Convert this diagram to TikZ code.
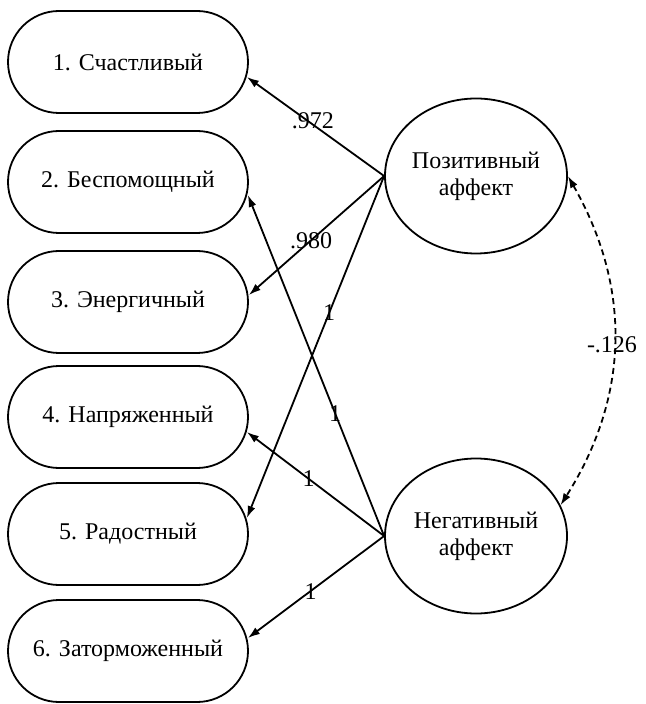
\documentclass[tikz,border=0pt]{standalone}
\usepackage{fontspec}
\setmainfont{Liberation Serif}
\usetikzlibrary{shapes.misc,shapes.geometric,arrows.meta}
\begin{document}
\begin{tikzpicture}[x=0.5pt,y=-0.5pt]

  \tikzstyle{item}=[shape=rounded rectangle,minimum width=128pt,minimum height=51pt,draw,line width=0.9pt]

  \tikzstyle{factor}=[shape=ellipse,minimum width=91pt,minimum height=77.5pt,inner sep=0pt,draw,line width=0.9pt,align=center]

  \tikzstyle{lineDecorate}=[-{Latex[length=6pt,width=4pt]},draw,line width=0.9pt]

  \tikzstyle{lineDecorateCov}=[{Latex[length=6pt,width=4pt]}-{Latex[length=6pt,width=4pt]},draw,line width=0.9pt,dash pattern=on 3pt off 2pt]

\fontsize{12}{13.5}\selectfont

\useasboundingbox (0,0) rectangle (645,704);

%% nodes or vertices

\node (I1)[item] at (128,62) {1. Счастливый};

\node (I2)[item] at (128,182) {2. Беспомощный};

\node (I3)[item] at (128,302) {3. Энергичный};

\node (I4)[item] at (128,417) {4. Напряженный};

\node (I5)[item] at (128,534) {5. Радостный};

\node (I6)[item] at (128,651) {6. Заторможенный};

\node (P)[factor] at (476,176) {Позитивный\\аффект};

\node (N)[factor] at (476,536) {Негативный\\аффект};

%% edges or lines

\path
	(P.west) edge[lineDecorate] node[pos=0.52,yshift=2pt] {.972} ([xshift=-1pt,yshift=-7.5pt]I1.east)

	(P.west) edge[lineDecorate] node[pos=0.54] {.980} ([yshift=3.5pt]I3.east)

	(P.west) edge[lineDecorate] node[pos=0.4] {1} ([xshift=-1pt,yshift=8pt]I5.east)
;

\path
	(N.west) edge[lineDecorate] node[pos=0.36] {1} ([xshift=-0.5pt,yshift=-6.5pt]I2.east)

	(N.west) edge[lineDecorate] node[pos=0.55] {1} ([xshift=-1pt,yshift=-7.5pt]I4.east)

	(N.west) edge[lineDecorate] node[pos=0.54] {1} ([xshift=-0.5pt,yshift=6.5pt]I6.east)
;

%dashed covariance
\path
	(P.east) edge[lineDecorateCov, bend left=31] node[midway, xshift=-1pt, yshift=-1.5pt] {-.126} (N.20)
;
\end{tikzpicture}
\end{document}
